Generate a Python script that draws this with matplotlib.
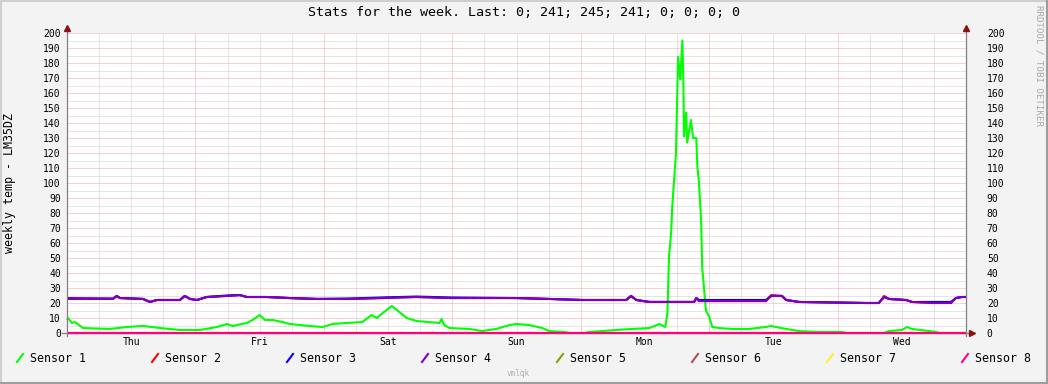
import matplotlib
matplotlib.use('Agg')
import matplotlib.pyplot as plt
from matplotlib.lines import Line2D

# horas desde el jueves 00:00
h_s1 = [0, 0.2, 0.9, 1.5, 3.0, 8.0, 11.2, 14.2, 17.4, 21.1, 24.8, 28.0, 29.9, 31.0, 33.6, 34.7,
        36.0, 37.0, 38.4, 40.3, 41.6, 45.3, 47.8, 49.6, 52.3, 55.2, 56.9, 57.9, 59.0, 60.7, 62.1,
        63.5, 65.3, 69.6, 70.0, 70.5, 71.5, 75.2, 77.6, 80.2, 82.7, 84.0, 86.4, 88.8, 90.1, 92.9,
        93.9, 96.7, 97.6, 100.0, 102.6, 105.6, 108.8, 110.7, 111.8, 112.2, 112.5, 112.9, 113.1,
        113.8, 114.0, 114.2, 114.6, 115.0, 115.2, 115.3, 115.7, 115.9, 116.6, 117.0, 117.6, 117.8,
        118.1, 118.5, 118.7, 119.4, 120.0, 120.6, 121.9, 124.3, 127.5, 130.6, 131.6, 132.5, 134.4,
        136.8, 140.0, 144.8, 145.7, 152.7, 153.6, 156.0, 157.0, 157.9, 161.1, 162.4, 163.0, 168.0]
s1 = [8.7, 10, 6.7, 7.3, 3.3, 2.7, 4, 4.7, 3.3, 2, 2, 4, 6, 4.7, 6.7, 8.7,
      12, 8.7, 8.7, 7.3, 6, 4.7, 4, 6, 6.7, 7.3, 12, 10, 13.3, 18, 14,
      10, 8, 6.7, 9.3, 5.3, 3.3, 2.7, 1.3, 2.7, 5.3, 6, 5.3, 3.3, 1.3, 0.7,
      0, 0, 0.7, 1.3, 2, 2.7, 3.3, 6, 4, 13, 51, 67, 84,
      120, 153, 184, 169, 195, 164, 131, 147, 127, 142, 130, 130, 111,
      100, 75, 44, 15, 10.7, 4, 3.3, 2.7, 2.7, 4, 4.7, 4, 2.7,
      1.3, 0.7, 0.7, 0, 0, 1.3, 2, 4, 2.7, 1.3, 0.7, 0, 0]

h_temp = [0, 8.6, 9.3, 9.9, 14.2, 15.5, 16.8, 21.1, 22.0, 23.0, 24.3, 26.1, 29.9, 32.3, 33.6, 37.3,
          41.6, 46.7, 52.8, 59.0, 65.3, 71.5, 84.0, 90.1, 96.3, 104.5, 105.4, 106.4, 108.8, 117.2,
          117.6, 118.1, 130.6, 131.6, 133.6, 134.4, 136.8, 149.3, 151.7, 152.7, 153.6, 156.8, 157.9,
          161.6, 165.2, 166.1, 167.2, 168]
s2 = [23.3, 22.7, 24.7, 23.3, 22.7, 20.7, 22, 22, 24.7, 22.7, 22, 24, 24.7, 25.3, 24, 24,
      23.3, 22.7, 22.7, 23.3, 24, 23.3, 23.3, 22.7, 22, 22, 24.7, 22, 20.7, 20.7,
      23.3, 21.3, 21.3, 25.3, 24.7, 22, 20.7, 20, 20, 24.7, 22.7, 22, 20.7,
      20, 20, 23.3, 24, 24]
s3 = [23, 23, 24.7, 23.3, 22.7, 20.7, 22, 22, 24.7, 22.7, 22, 24, 25, 25.3, 24, 24,
      23.3, 22.7, 23, 23.7, 24.3, 23.7, 23.3, 22.7, 22, 22, 24.7, 22, 20.7, 20.7,
      23.3, 22, 22, 24.7, 24.7, 22, 20.7, 20, 20, 24, 22.7, 22, 20.7,
      20.7, 20.7, 23.3, 24, 24]
s4 = [22.7, 22.7, 24.7, 23.3, 22.7, 20.7, 22, 22, 24.7, 22.7, 22, 24, 24.7, 25.3, 24, 24,
      23.3, 22.7, 22.7, 23.3, 24, 23.3, 23.3, 22.7, 22, 22, 24.7, 22, 20.7, 20.7,
      23.3, 21.3, 21.3, 24.7, 24.7, 22, 20.7, 20, 20, 24, 22.7, 22, 20.7,
      20, 20, 23.3, 24, 24]
h_zero = [0, 168]
s5 = [0, 0]
s6 = [0, 0]
s7 = [0, 0]
s8 = [0, 0]

sensores = ['Sensor 1', 'Sensor 2', 'Sensor 3', 'Sensor 4',
            'Sensor 5', 'Sensor 6', 'Sensor 7', 'Sensor 8']
colores = ['#00FF00', '#FF0000', '#0000FF', '#8000C0',
           '#8CA000', '#B05050', '#FFEE30', '#FF0080']
dias = ['Thu', 'Fri', 'Sat', 'Sun', 'Mon', 'Tue', 'Wed']
titulo = 'Stats for the week. Last: 0; 241; 245; 241; 0; 0; 0; 0'

W, H = 1048, 384
fx = lambda px: px / W
fy = lambda py: 1 - py / H

plt.rcParams['font.family'] = 'DejaVu Sans Mono'
fig = plt.figure(figsize=(W / 100, H / 100), dpi=100, facecolor='#F3F3F3')

# marco 3D
fig.add_artist(Line2D([0, 1], [fy(1), fy(1)], color='#CFCFCF', lw=1.5))
fig.add_artist(Line2D([fx(1), fx(1)], [0, 1], color='#CFCFCF', lw=1.5))
fig.add_artist(Line2D([0, 1], [fy(383), fy(383)], color='#9E9E9E', lw=1.5))
fig.add_artist(Line2D([fx(1047), fx(1047)], [0, 1], color='#9E9E9E', lw=1.5))

ax = fig.add_axes([fx(67), fy(333), 899 / W, 300 / H])
ax.set_facecolor('white')
ax.set_xlim(0, 168)
ax.set_ylim(0, 200)
for s in ax.spines.values():
    s.set_visible(False)

# rejilla (punteada 1px / 1px)
grid_min = '#CDCDCD'
grid_maj = '#E8A8A8'
pt = (0, (1, 1))
for h in range(6, 168, 6):
    if h % 24:
        ax.axvline(h, color=grid_min, lw=0.72, ls=pt, zorder=0)
for v in range(5, 201, 10):
    ax.axhline(v, color=grid_min, lw=0.72, ls=pt, zorder=0)
for h in range(24, 168, 24):
    ax.axvline(h, color=grid_maj, lw=0.72, ls=pt, zorder=0)
for v in range(10, 201, 10):
    ax.axhline(v, color=grid_maj, lw=0.72, ls=pt, zorder=0)

series = [(h_s1, s1), (h_temp, s2), (h_temp, s3), (h_temp, s4),
          (h_zero, s5), (h_zero, s6), (h_zero, s7), (h_zero, s8)]
for (xs, ys), c in zip(series, colores):
    ax.plot(xs, ys, color=c, lw=1.5, clip_on=False, zorder=3, solid_capstyle='butt')

# ejes y flechas
eje = '#808080'
ax.plot([0, 0], [-2, 203], color=eje, lw=0.9, clip_on=False, zorder=4)
ax.plot([168, 168], [-2, 203], color=eje, lw=0.9, clip_on=False, zorder=4)
ax.plot([-1, 169], [0, 0], color=eje, lw=0.9, clip_on=False, zorder=2)
ax.plot([0, 168], [203.3, 203.3], ls='none', marker='^', ms=5, color='#901010', clip_on=False, zorder=5)
ax.plot([169.2], [0], ls='none', marker='>', ms=5, color='#901010', clip_on=False, zorder=5)

ax.set_yticks(range(0, 201, 10))
ax.tick_params(axis='y', length=0, pad=4.5, labelsize=7)
ax.set_xticks([12 + 24 * i for i in range(7)])
ax.set_xticklabels(dias)
ax.tick_params(axis='x', length=0, pad=3, labelsize=7)

ax2 = ax.twinx()
for s in ax2.spines.values():
    s.set_visible(False)
ax2.set_ylim(0, 200)
ax2.set_yticks(range(0, 201, 10))
ax2.tick_params(axis='y', length=0, pad=15, labelsize=7)

fig.text(0.5, fy(13), titulo, ha='center', va='center', fontsize=9.6)
fig.text(fx(10), fy(183), 'weekly temp - LM35DZ', rotation=90, ha='center', va='center', fontsize=8.4)
fig.text(fx(1039), fy(5), 'RRDTOOL / TOBI OETIKER', rotation=270, ha='center', va='top',
         fontsize=6.6, color='#A8A8A8')
fig.text(fx(518), fy(373), 'vmlqk', ha='center', va='center', fontsize=5.5, color='#B0B0B0')

# leyenda
for i, (nombre, c) in enumerate(zip(sensores, colores)):
    x0 = 20 + 135 * i
    fig.add_artist(Line2D([fx(x0 - 3), fx(x0 + 3)], [fy(362), fy(354)], color=c, lw=1.5))
    fig.text(fx(x0 + 10), fy(358), nombre, ha='left', va='center', fontsize=8.4)

fig.savefig('out.png', dpi=100, facecolor=fig.get_facecolor())
